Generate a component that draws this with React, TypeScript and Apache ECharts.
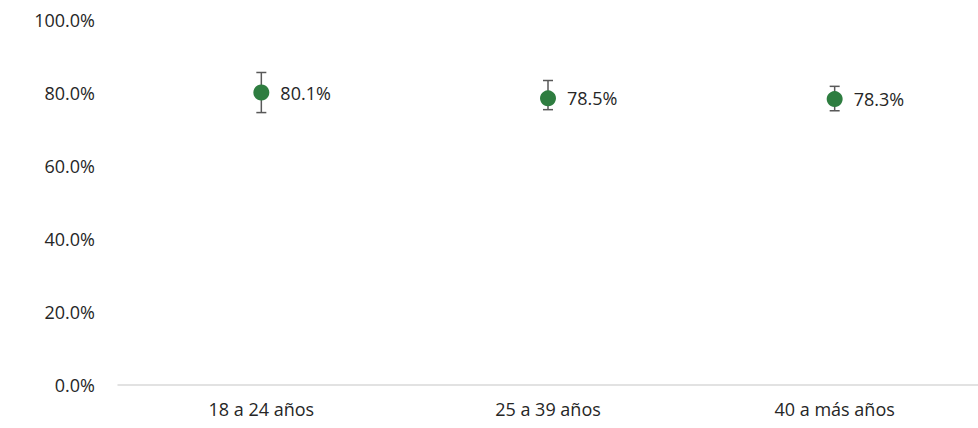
import React, { useEffect, useRef } from "react";
import * as echarts from "echarts";

const categories = ["18 a 24 años", "25 a 39 años", "40 a más años"];
const values = [80.1, 78.5, 78.3];
const lowerBounds = [74.6, 75.4, 75.1];
const upperBounds = [85.6, 83.4, 81.8];
const yTicks = { min: 0, max: 100, interval: 20 };

const FONT = "'Open Sans', 'Noto Sans', sans-serif";

export default function App() {
  const ref = useRef<HTMLDivElement>(null);
  useEffect(() => {
    if (!ref.current) return;
    const chart = echarts.init(ref.current, undefined, { renderer: "svg" });
    const errData = categories.map((c, i) => [i, lowerBounds[i], upperBounds[i]]);
    chart.setOption({
      animation: false,
      grid: { left: 118, right: 0, top: 20, bottom: 43.5 },
      xAxis: {
        type: "category",
        data: categories,
        axisLine: { lineStyle: { color: "#d9d9d9", width: 1.5 } },
        axisTick: { show: false },
        axisLabel: { color: "#262626", fontSize: 18, fontFamily: FONT, margin: 15 },
      },
      yAxis: {
        type: "value",
        min: yTicks.min,
        max: yTicks.max,
        interval: yTicks.interval,
        splitLine: { show: false },
        axisLine: { show: false },
        axisTick: { show: false },
        axisLabel: {
          color: "#262626",
          fontSize: 18,
          fontFamily: FONT,
          margin: 23,
          formatter: (v: number) => v.toFixed(1) + "%",
        },
      },
      series: [
        {
          type: "custom",
          data: errData,
          z: 1,
          renderItem: (params: any, api: any) => {
            const x = api.value(0);
            const lo = api.coord([x, api.value(1)]);
            const hi = api.coord([x, api.value(2)]);
            const half = 5;
            const style = { stroke: "#595959", lineWidth: 1.5 };
            return {
              type: "group",
              children: [
                { type: "line", shape: { x1: lo[0], y1: lo[1], x2: hi[0], y2: hi[1] }, style },
                { type: "line", shape: { x1: hi[0] - half, y1: hi[1], x2: hi[0] + half, y2: hi[1] }, style },
                { type: "line", shape: { x1: lo[0] - half, y1: lo[1], x2: lo[0] + half, y2: lo[1] }, style },
              ],
            };
          },
        },
        {
          type: "scatter",
          data: values,
          z: 2,
          symbol: "circle",
          symbolSize: 16,
          itemStyle: { color: "#2e7d40", opacity: 1 },
          label: {
            show: true,
            position: "right",
            distance: 11,
            color: "#262626",
            fontSize: 18,
            fontFamily: FONT,
            formatter: (p: any) => p.value.toFixed(1) + "%",
          },
        },
      ],
    });
    return () => chart.dispose();
  }, []);
  return (
    <div
      ref={ref}
      style={{ position: "absolute", left: 0, top: 0, width: 978, height: 428 }}
    />
  );
}
